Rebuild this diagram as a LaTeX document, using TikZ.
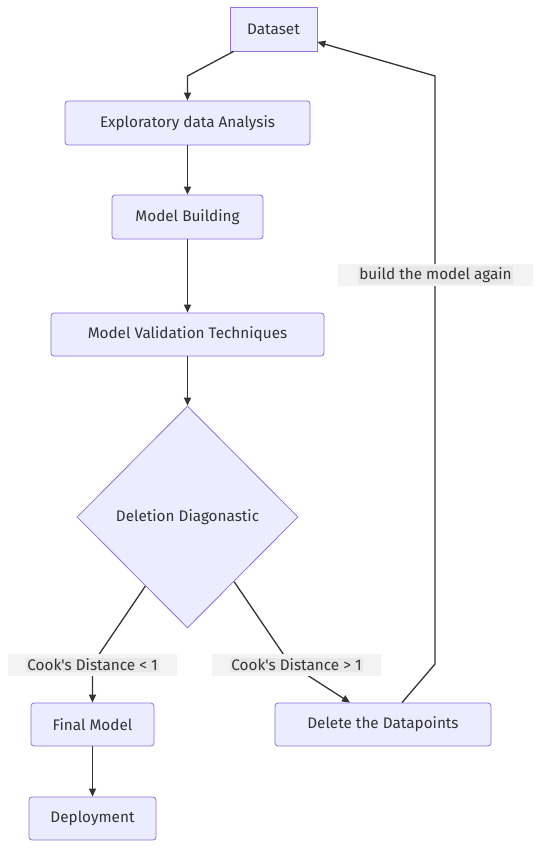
\documentclass[tikz,border=0pt]{standalone}
\usepackage{fontspec}
\setmainfont{Fira Sans}
\usetikzlibrary{shapes.geometric,arrows.meta,calc}
\definecolor{nodefill}{HTML}{ECECFF}
\definecolor{nodeline}{HTML}{9370DB}
\definecolor{edgecol}{HTML}{333333}
\definecolor{lblout}{HTML}{F3F3F3}
\definecolor{lblin}{HTML}{E8E8E8}
\begin{document}
\begin{tikzpicture}[x=1pt,y=-1pt,
  every node/.style={font=\fontsize{15.3}{17}\selectfont, text=edgecol},
  box/.style={draw=nodeline, fill=nodefill, line width=0.8pt, inner sep=0pt, rounded corners=3pt},
  sqbox/.style={draw=nodeline, fill=nodefill, line width=0.8pt, inner sep=0pt},
  dia/.style={diamond, aspect=1, draw=nodeline, fill=nodefill, line width=0.8pt, inner sep=0pt, minimum width=221pt, minimum height=222pt},
  edge/.style={draw=edgecol, line width=1.3pt, -{Triangle[length=8pt,width=7pt]}},
  lblbg/.style={fill=lblout, inner sep=0pt, minimum height=22pt},
  lbl/.style={fill=lblin, inner sep=1pt}
]
\useasboundingbox (0,0) rectangle (541,848);
\fill[white] (0,0) rectangle (541,848);

\node[sqbox, minimum width=87pt, minimum height=44pt] (ds) at (273.5,29) {Dataset};
\node[box, minimum width=245pt, minimum height=44pt] (eda) at (187.5,123) {Exploratory data Analysis};
\node[box, minimum width=151pt, minimum height=44pt] (mb) at (187.5,217) {Model Building};
\node[box, minimum width=273pt, minimum height=43pt] (mvt) at (187.5,334.5) {Model Validation Techniques};
\node[dia] (dd) at (187.5,517) {Deletion Diagonastic};
\node[box, minimum width=123pt, minimum height=43pt] (fm) at (92.5,724.5) {Final Model};
\node[box, minimum width=216pt, minimum height=43pt] (del) at (383,724.5) {Delete the Datapoints};
\node[box, minimum width=127pt, minimum height=43pt] (dep) at (92.5,818.5) {Deployment};

\coordinate (w1) at (187.5,76);
\coordinate (w2) at (92.5,664);
\coordinate (w3) at (290,664);
\coordinate (w4) at (435,664);
\coordinate (w5) at (435,76);

\draw[edge] ([xshift=4pt]ds.south west) -- (w1) -- (eda.north);
\draw[edge] (eda.south) -- (mb.north);
\draw[edge] (mb.south) -- (mvt.north);
\draw[edge] (mvt.south) -- (dd.north);
\draw[edge] ($(dd.west)!0.62!(dd.south)$) -- (w2) -- (fm.north);
\draw[edge] ($(dd.south)!0.42!(dd.east)$) -- (w3) -- ([xshift=-33pt]del.north);
\draw[edge] ([xshift=19pt]del.north) -- (w4) -- (w5) -- ([yshift=-13pt]ds.east);
\draw[edge] (fm.south) -- (dep.north);

\node[lblbg, minimum width=169pt] (l1bg) at (92.5,665) {};
\node[lbl] (l1) at (92.5,665) {Cook\textquotesingle s Distance < 1};
\node[lblbg, minimum width=169pt] (l2bg) at (296.5,665) {};
\node[lbl] (l2) at (296.5,665) {Cook\textquotesingle s Distance > 1};
\node[lblbg, minimum width=195pt] (l3bg) at (435.5,275) {};
\node[lbl] (l3) at (435.5,275) {build the model again};
\end{tikzpicture}
\end{document}
